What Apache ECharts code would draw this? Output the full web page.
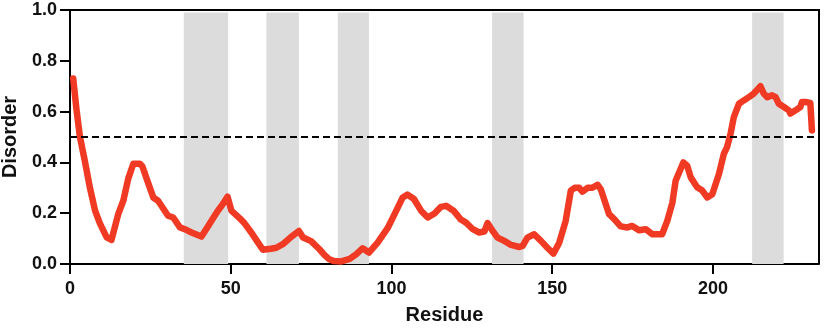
<!DOCTYPE html>
<html>
<head>
<meta charset="utf-8">
<script src="https://cdn.jsdelivr.net/npm/echarts@6/dist/echarts.min.js"></script>
<style>
  html, body { margin: 0; padding: 0; background: #fff; }
  #chart { width: 827px; height: 328px; }
</style>
</head>
<body>
<div id="chart"></div>
<script>
// residue positions
var residue = [1, 2, 3.1, 4.7, 6.2, 7.8, 9.3, 11.4, 12.9, 15, 16.6, 18.1, 19.7, 21.7, 22.5, 24, 25.9, 27.4, 30.5, 32.1,
  34.2, 35.7, 37.8, 40.9, 43, 44.5, 46, 47.5, 49, 50.2, 52.8, 54.3, 56.4, 58.5, 60, 62.5, 64.2, 66.2, 68.8, 71.2,
  72.5, 75, 77.6, 79.2, 80.5, 82, 84.4, 87, 89, 91, 93, 95.7, 98.9, 101.5, 103.5, 105, 107, 109.2, 111.3, 113.4,
  115.4, 117, 119.3, 121.6, 123.2, 125.3, 127.3, 128.9, 129.9, 131.5, 133, 135.1, 137.2, 139.8, 140.8, 142.3, 144.4, 146.5, 148.5, 150.4,
  152.2, 154.2, 155.8, 157, 158.4, 159.4, 161, 162.5, 164.1, 165.1, 167.7, 169.3, 171.3, 173.4, 174.9, 177, 179.1, 181.2, 184.2, 185.8,
  187.4, 188.4, 190.8, 192, 193.1, 195.1, 196.7, 198.2, 199.8, 201.9, 203.4, 204.4, 205.5, 206.5, 208.1, 209.6, 211.2, 212.7, 213.8, 214.8,
  215.8, 216.9, 218.4, 219.5, 220.5, 222.1, 223.6, 224.1, 225.7, 227.2, 227.7, 228.8, 230.3, 230.8];
var disorder = [0.73, 0.61, 0.50, 0.40, 0.30, 0.21, 0.16, 0.105, 0.095, 0.196, 0.25, 0.335, 0.395, 0.395, 0.385, 0.33, 0.262, 0.249, 0.19, 0.183,
  0.144, 0.137, 0.124, 0.108, 0.15, 0.18, 0.21, 0.235, 0.265, 0.21, 0.18, 0.16, 0.124, 0.084, 0.056, 0.06, 0.064, 0.078, 0.107, 0.13,
  0.104, 0.09, 0.058, 0.035, 0.02, 0.012, 0.01, 0.02, 0.038, 0.062, 0.045, 0.084, 0.143, 0.21, 0.262, 0.273, 0.256, 0.21, 0.183, 0.199,
  0.225, 0.229, 0.21, 0.175, 0.163, 0.137, 0.124, 0.128, 0.161, 0.13, 0.104, 0.091, 0.075, 0.067, 0.071, 0.104, 0.117, 0.091, 0.064, 0.041,
  0.084, 0.17, 0.289, 0.30, 0.30, 0.285, 0.30, 0.30, 0.312, 0.295, 0.196, 0.177, 0.148, 0.144, 0.15, 0.133, 0.137, 0.117, 0.117, 0.17,
  0.242, 0.328, 0.40, 0.387, 0.341, 0.302, 0.289, 0.262, 0.275, 0.355, 0.434, 0.46, 0.513, 0.578, 0.631, 0.644, 0.657, 0.671, 0.686, 0.70,
  0.671, 0.657, 0.664, 0.657, 0.631, 0.618, 0.605, 0.592, 0.605, 0.618, 0.638, 0.638, 0.634, 0.526];

// shaded residue ranges
var bandStart = [35.4, 61.1, 83.3, 131.3, 212.2];
var bandEnd = [49.2, 71.2, 93, 141.1, 222];

var xTicks = [0, 50, 100, 150, 200];
var xMax = 233;
var yMax = 1;
var threshold = 0.5;

var points = residue.map(function (r, i) { return [r, disorder[i]]; });
var bands = bandStart.map(function (s, i) {
  return [{ xAxis: s, yAxis: 0 }, { xAxis: bandEnd[i], yAxis: 0.99 }];
});

var labelFont = { fontFamily: 'Liberation Sans', fontWeight: 'bold', fontSize: 18, color: '#111' };
var nameFont = { fontFamily: 'Liberation Sans', fontWeight: 'bold', fontSize: 20, color: '#111' };
var blackLine = { color: '#000', width: 2 };

var chart = echarts.init(document.getElementById('chart'));
var option = {
  backgroundColor: '#fff',
  animation: false,
  grid: {
    left: 70, right: 8, top: 10, bottom: 64,
    containLabel: false,
    outerBoundsMode: 'none'
  },
  xAxis: {
    type: 'value',
    min: 0,
    max: xMax,
    interval: 50,
    name: 'Residue',
    nameLocation: 'middle',
    nameGap: 41,
    nameTextStyle: nameFont,
    axisLine: { show: true, onZero: false, lineStyle: blackLine },
    axisTick: { show: true, length: 10, customValues: xTicks, lineStyle: blackLine },
    axisLabel: Object.assign({ customValues: xTicks, margin: 16 }, labelFont),
    splitLine: { show: false }
  },
  yAxis: {
    type: 'value',
    min: 0,
    max: yMax,
    interval: 0.2,
    name: 'Disorder',
    nameLocation: 'middle',
    nameGap: 50,
    nameTextStyle: nameFont,
    axisLine: { show: true, onZero: false, lineStyle: blackLine },
    axisTick: { show: true, length: 10, lineStyle: blackLine },
    axisLabel: Object.assign({
      margin: 13,
      formatter: function (v) { return v.toFixed(1); }
    }, labelFont),
    splitLine: { show: false }
  },
  series: [
    {
      type: 'line',
      data: [],
      z: 1,
      silent: true,
      markArea: {
        silent: true,
        itemStyle: { color: '#dcdcdc' },
        data: bands
      }
    },
    {
      type: 'line',
      data: points,
      z: 3,
      showSymbol: false,
      lineStyle: { color: '#f03a24', width: 6.5, join: 'round', cap: 'round' },
      markLine: {
        silent: true,
        symbol: 'none',
        label: { show: false },
        lineStyle: { color: '#000', width: 2, type: [7, 4] },
        data: [{ yAxis: threshold }]
      }
    }
  ]
};
chart.setOption(option);

// top and right frame, placed through the axes' own scales
var topLeft = chart.convertToPixel({ gridIndex: 0 }, [0, yMax]);
var bottomRight = chart.convertToPixel({ gridIndex: 0 }, [xMax, 0]);
chart.setOption({
  graphic: [{
    type: 'polyline',
    z: 10,
    silent: true,
    shape: { points: [[topLeft[0], topLeft[1]], [bottomRight[0], topLeft[1]], [bottomRight[0], bottomRight[1]]] },
    style: { stroke: '#000', lineWidth: 2, fill: null }
  }]
});
</script>
</body>
</html>
